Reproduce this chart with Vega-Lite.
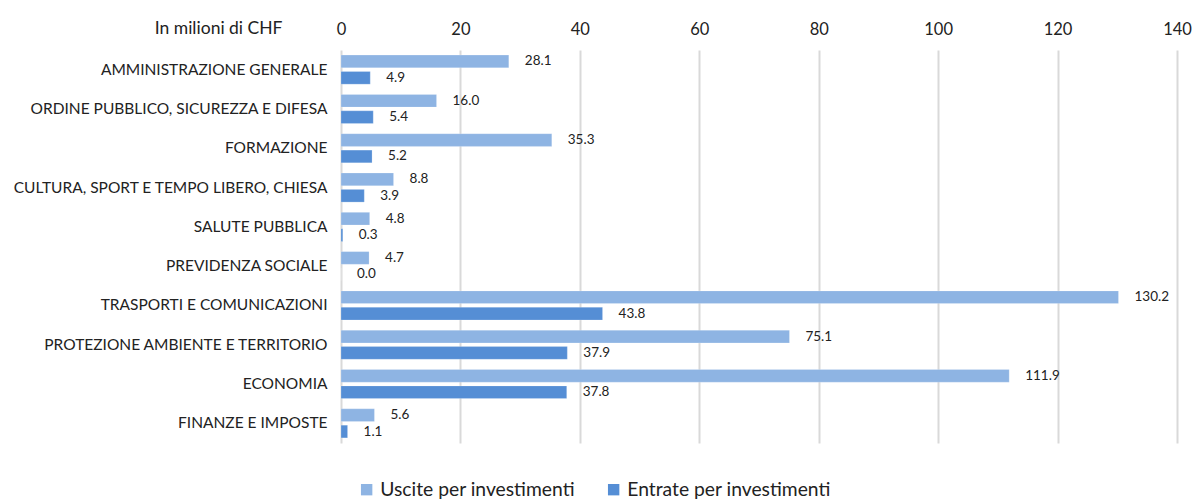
{
  "$schema": "https://vega.github.io/schema/vega-lite/v6.json",
  "width": 836,
  "height": 393,
  "autosize": {"type": "none"},
  "padding": {"left": 341, "top": 50, "right": 17, "bottom": 56},
  "background": "white",
  "config": {"view": {"stroke": null}, "font": "Lato"},
  "data": {"values": [
    {"cat": "AMMINISTRAZIONE GENERALE", "serie": "Uscite per investimenti", "v": 28.1},
    {"cat": "AMMINISTRAZIONE GENERALE", "serie": "Entrate per investimenti", "v": 4.9},
    {"cat": "ORDINE PUBBLICO, SICUREZZA E DIFESA", "serie": "Uscite per investimenti", "v": 16.0},
    {"cat": "ORDINE PUBBLICO, SICUREZZA E DIFESA", "serie": "Entrate per investimenti", "v": 5.4},
    {"cat": "FORMAZIONE", "serie": "Uscite per investimenti", "v": 35.3},
    {"cat": "FORMAZIONE", "serie": "Entrate per investimenti", "v": 5.2},
    {"cat": "CULTURA, SPORT E TEMPO LIBERO, CHIESA", "serie": "Uscite per investimenti", "v": 8.8},
    {"cat": "CULTURA, SPORT E TEMPO LIBERO, CHIESA", "serie": "Entrate per investimenti", "v": 3.9},
    {"cat": "SALUTE PUBBLICA", "serie": "Uscite per investimenti", "v": 4.8},
    {"cat": "SALUTE PUBBLICA", "serie": "Entrate per investimenti", "v": 0.3},
    {"cat": "PREVIDENZA SOCIALE", "serie": "Uscite per investimenti", "v": 4.7},
    {"cat": "PREVIDENZA SOCIALE", "serie": "Entrate per investimenti", "v": 0.0},
    {"cat": "TRASPORTI E COMUNICAZIONI", "serie": "Uscite per investimenti", "v": 130.2},
    {"cat": "TRASPORTI E COMUNICAZIONI", "serie": "Entrate per investimenti", "v": 43.8},
    {"cat": "PROTEZIONE AMBIENTE E TERRITORIO", "serie": "Uscite per investimenti", "v": 75.1},
    {"cat": "PROTEZIONE AMBIENTE E TERRITORIO", "serie": "Entrate per investimenti", "v": 37.9},
    {"cat": "ECONOMIA", "serie": "Uscite per investimenti", "v": 111.9},
    {"cat": "ECONOMIA", "serie": "Entrate per investimenti", "v": 37.8},
    {"cat": "FINANZE E IMPOSTE", "serie": "Uscite per investimenti", "v": 5.6},
    {"cat": "FINANZE E IMPOSTE", "serie": "Entrate per investimenti", "v": 1.1}
  ]},
  "encoding": {
    "y": {
      "field": "cat", "type": "nominal", "sort": null,
      "scale": {"paddingInner": 0.26, "paddingOuter": 0.13},
      "axis": {"title": null, "ticks": false, "domain": false, "labelPadding": 14, "labelFontSize": 15.5, "labelColor": "#222", "labelFont": "Lato", "labelLimit": 400}
    },
    "yOffset": {
      "field": "serie", "type": "nominal",
      "sort": ["Uscite per investimenti", "Entrate per investimenti"],
      "scale": {"paddingInner": 0.226, "paddingOuter": 0}
    },
    "x": {
      "field": "v", "type": "quantitative",
      "scale": {"domain": [0, 140], "nice": false},
      "axis": {
        "orient": "top", "values": [0, 20, 40, 60, 80, 100, 120, 140],
        "title": "In milioni di CHF", "titleX": -59, "titleY": -22, "titleAlign": "right",
        "titleBaseline": "middle", "titleAngle": 0, "titleFontSize": 17.5, "titleFontWeight": "normal",
        "titleColor": "#222", "titleFont": "Lato",
        "labelFontSize": 16.5, "labelColor": "#222", "labelFont": "Lato", "labelPadding": 13, "labelFlush": false,
        "ticks": false, "domain": false,
        "grid": true, "gridColor": "#d9d9d9", "gridWidth": 2
      }
    }
  },
  "layer": [
    {
      "mark": {"type": "bar", "stroke": "white", "strokeOpacity": 0.4, "strokeWidth": 0.5},
      "encoding": {
        "color": {
          "field": "serie", "type": "nominal",
          "sort": ["Uscite per investimenti", "Entrate per investimenti"],
          "scale": {"domain": ["Uscite per investimenti", "Entrate per investimenti"], "range": ["#8EB4E3", "#558ED5"]},
          "legend": {
            "orient": "none", "direction": "horizontal", "legendX": 16, "legendY": 430,
            "title": null, "symbolType": "square", "symbolSize": 130, "symbolStrokeWidth": 0,
            "labelFontSize": 19.3, "labelColor": "#222", "labelFont": "Lato", "labelLimit": 400,
            "columnPadding": 29, "labelOffset": 4
          }
        }
      }
    },
    {
      "mark": {"type": "text", "align": "left", "baseline": "middle", "dx": 16, "fontSize": 13.5, "color": "#222", "font": "Lato"},
      "encoding": {
        "text": {"field": "v", "type": "quantitative", "format": ".1f"}
      }
    }
  ]
}
